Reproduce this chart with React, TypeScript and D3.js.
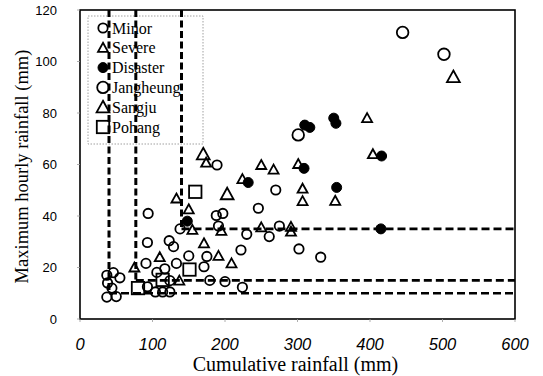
import React from "react";
import * as d3 from "d3";

const minor: [number, number][] = [
  [37, 17], [46, 18], [55, 16], [38, 14], [44, 12], [37, 8.5], [50, 8.7],
  [94, 41], [93, 29.7], [123, 30.4], [129, 28.1], [91, 21.6], [106, 18.1], [117, 19.5],
  [133, 21.6], [93, 12.5], [104, 10.5], [114, 10.5], [124, 10.5], [124, 14.9],
  [138, 35], [150, 24.5], [171, 20.3], [175, 24.3], [188, 40.2], [197, 41], [189, 59.8],
  [191, 36.1], [230, 32.9], [261, 32], [275, 36.1], [246, 43], [270, 50.1], [222, 26.8],
  [302, 27.2], [332, 24], [179, 15], [200, 14.5], [224, 12.3],
];
const severe: [number, number][] = [
  [396, 78], [404, 64], [250, 59.8], [267, 58], [301, 60.2], [224, 54.3], [307, 50.6],
  [307, 45.8], [352, 45.9], [150, 42.6], [195, 34.2], [250, 35.6], [291, 35.8], [291, 33.9],
  [171, 29.4], [191, 24.5], [209, 21.6], [137, 14.9], [155, 34.6], [174, 60.7], [110, 24],
  [75, 20], [133, 46.8],
];
const disaster: [number, number][] = [
  [310, 75.3], [317, 74.4], [350, 78], [353, 76], [416, 63.3], [309, 58.5], [232, 53],
  [354, 51.1], [415, 35], [148, 38],
];
const jangheung: [number, number][] = [[445, 111.3], [502, 102.8], [301, 71.5]];
const sangju: [number, number][] = [[515, 94], [170, 64], [203, 48.5]];
const pohang: [number, number][] = [[80, 12], [114, 15.2], [151, 19.2], [159, 49.4]];

// threshold lines: [x start, y level]
const thresholds: [number, number][] = [[40, 10], [77, 15], [140, 35]];

const xTicks = [0, 100, 200, 300, 400, 500, 600];
const yTicks = [0, 20, 40, 60, 80, 100, 120];
const legendLabels = ["Minor", "Severe", "Disaster", "Jangheung", "Sangju", "Pohang"];
const legendShapes = ["circle", "triangle", "filled", "bigcircle", "bigtriangle", "square"];

const W = 543, H = 376;
const L = 80, R = 515, T = 10, B = 319;

function Marker({ shape, x, y }: { shape: string; x: number; y: number }) {
  const sw = 1.8;
  if (shape === "circle") return <circle cx={x} cy={y} r={4.7} fill="none" stroke="#000" strokeWidth={sw} />;
  if (shape === "bigcircle") return <circle cx={x} cy={y} r={5.8} fill="none" stroke="#000" strokeWidth={sw} />;
  if (shape === "filled") return <circle cx={x} cy={y} r={5} fill="#000" stroke="#000" strokeWidth={1} />;
  if (shape === "triangle") {
    const s = 5;
    return <path d={`M${x},${y - s}L${x + s},${y + s * 0.8}L${x - s},${y + s * 0.8}Z`} fill="none" stroke="#000" strokeWidth={sw} />;
  }
  if (shape === "bigtriangle") {
    const s = 6.4;
    return <path d={`M${x},${y - s}L${x + s},${y + s * 0.8}L${x - s},${y + s * 0.8}Z`} fill="none" stroke="#000" strokeWidth={sw} />;
  }
  const s = 6.2;
  return <rect x={x - s} y={y - s} width={2 * s} height={2 * s} fill="none" stroke="#000" strokeWidth={sw} />;
}

export default function App() {
  const x = d3.scaleLinear().domain([0, 600]).range([L, R]);
  const y = d3.scaleLinear().domain([0, 120]).range([B, T]);

  const series: { data: [number, number][]; shape: string }[] = [
    { data: minor, shape: "circle" },
    { data: severe, shape: "triangle" },
    { data: jangheung, shape: "bigcircle" },
    { data: sangju, shape: "bigtriangle" },
    { data: pohang, shape: "square" },
    { data: disaster, shape: "filled" },
  ];

  const legendRowY = (i: number) => 28 + i * 19.8;

  return (
    <svg width={W} height={H} style={{ position: "absolute", left: 0, top: 0, background: "#fff" }}>
      <rect x={0} y={0} width={W} height={H} fill="#fff" />
      {/* frame */}
      <rect x={L} y={T} width={R - L} height={B - T} fill="none" stroke="#000" strokeWidth={1.6} />
      {/* ticks */}
      {yTicks.map((t) => (
        <g key={"y" + t}>
          <line x1={L - 3} x2={L} y1={y(t)} y2={y(t)} stroke="#999" strokeWidth={0.8} />
          <text x={57} y={y(t)} dy="0.35em" textAnchor="end" fontFamily="Liberation Sans, Arial, sans-serif" fontSize={13}>{t}</text>
        </g>
      ))}
      {xTicks.map((t) => (
        <g key={"x" + t}>
          <line x1={x(t)} x2={x(t)} y1={B} y2={B + 3} stroke="#999" strokeWidth={0.8} />
          <text x={x(t)} y={350} textAnchor="middle" fontFamily="Liberation Sans, Arial, sans-serif" fontStyle="italic" fontSize={16.5}>{t}</text>
        </g>
      ))}
      <text x={(L + R) / 2 - 2} y={371} textAnchor="middle" fontFamily="Liberation Serif, Times New Roman, serif" fontSize={20}>Cumulative rainfall (mm)</text>
      <text transform={`translate(28,${(T + B) / 2 + 2}) rotate(-90)`} textAnchor="middle" fontFamily="Liberation Serif, Times New Roman, serif" fontSize={18.5}>Maximum hourly rainfall (mm)</text>

      {/* legend */}
      <rect x={88} y={16} width={115} height={128} fill="none" stroke="#888" strokeWidth={0.8} strokeDasharray="1.5,1.5" />
      {legendLabels.map((lab, i) => (
        <g key={lab}>
          <Marker shape={legendShapes[i]} x={103} y={legendRowY(i)} />
          <text x={112} y={legendRowY(i)} dy="0.35em" fontFamily="Liberation Serif, Times New Roman, serif" fontSize={16}>{lab}</text>
        </g>
      ))}

      {/* threshold dashed lines */}
      {thresholds.map(([tx, ty], i) => (
        <g key={"t" + i}>
          <line x1={x(tx)} x2={x(tx)} y1={y(120)} y2={y(ty)} stroke="#000" strokeWidth={3} strokeDasharray="7,3.5" />
          <line x1={x(tx)} x2={x(600)} y1={y(ty)} y2={y(ty)} stroke="#000" strokeWidth={2.6} strokeDasharray="8,4" />
        </g>
      ))}

      {/* points */}
      {series.map((s, si) => (
        <g key={"s" + si}>
          {s.data.map((d, i) => (
            <Marker key={i} shape={s.shape} x={x(d[0])} y={y(d[1])} />
          ))}
        </g>
      ))}
    </svg>
  );
}
